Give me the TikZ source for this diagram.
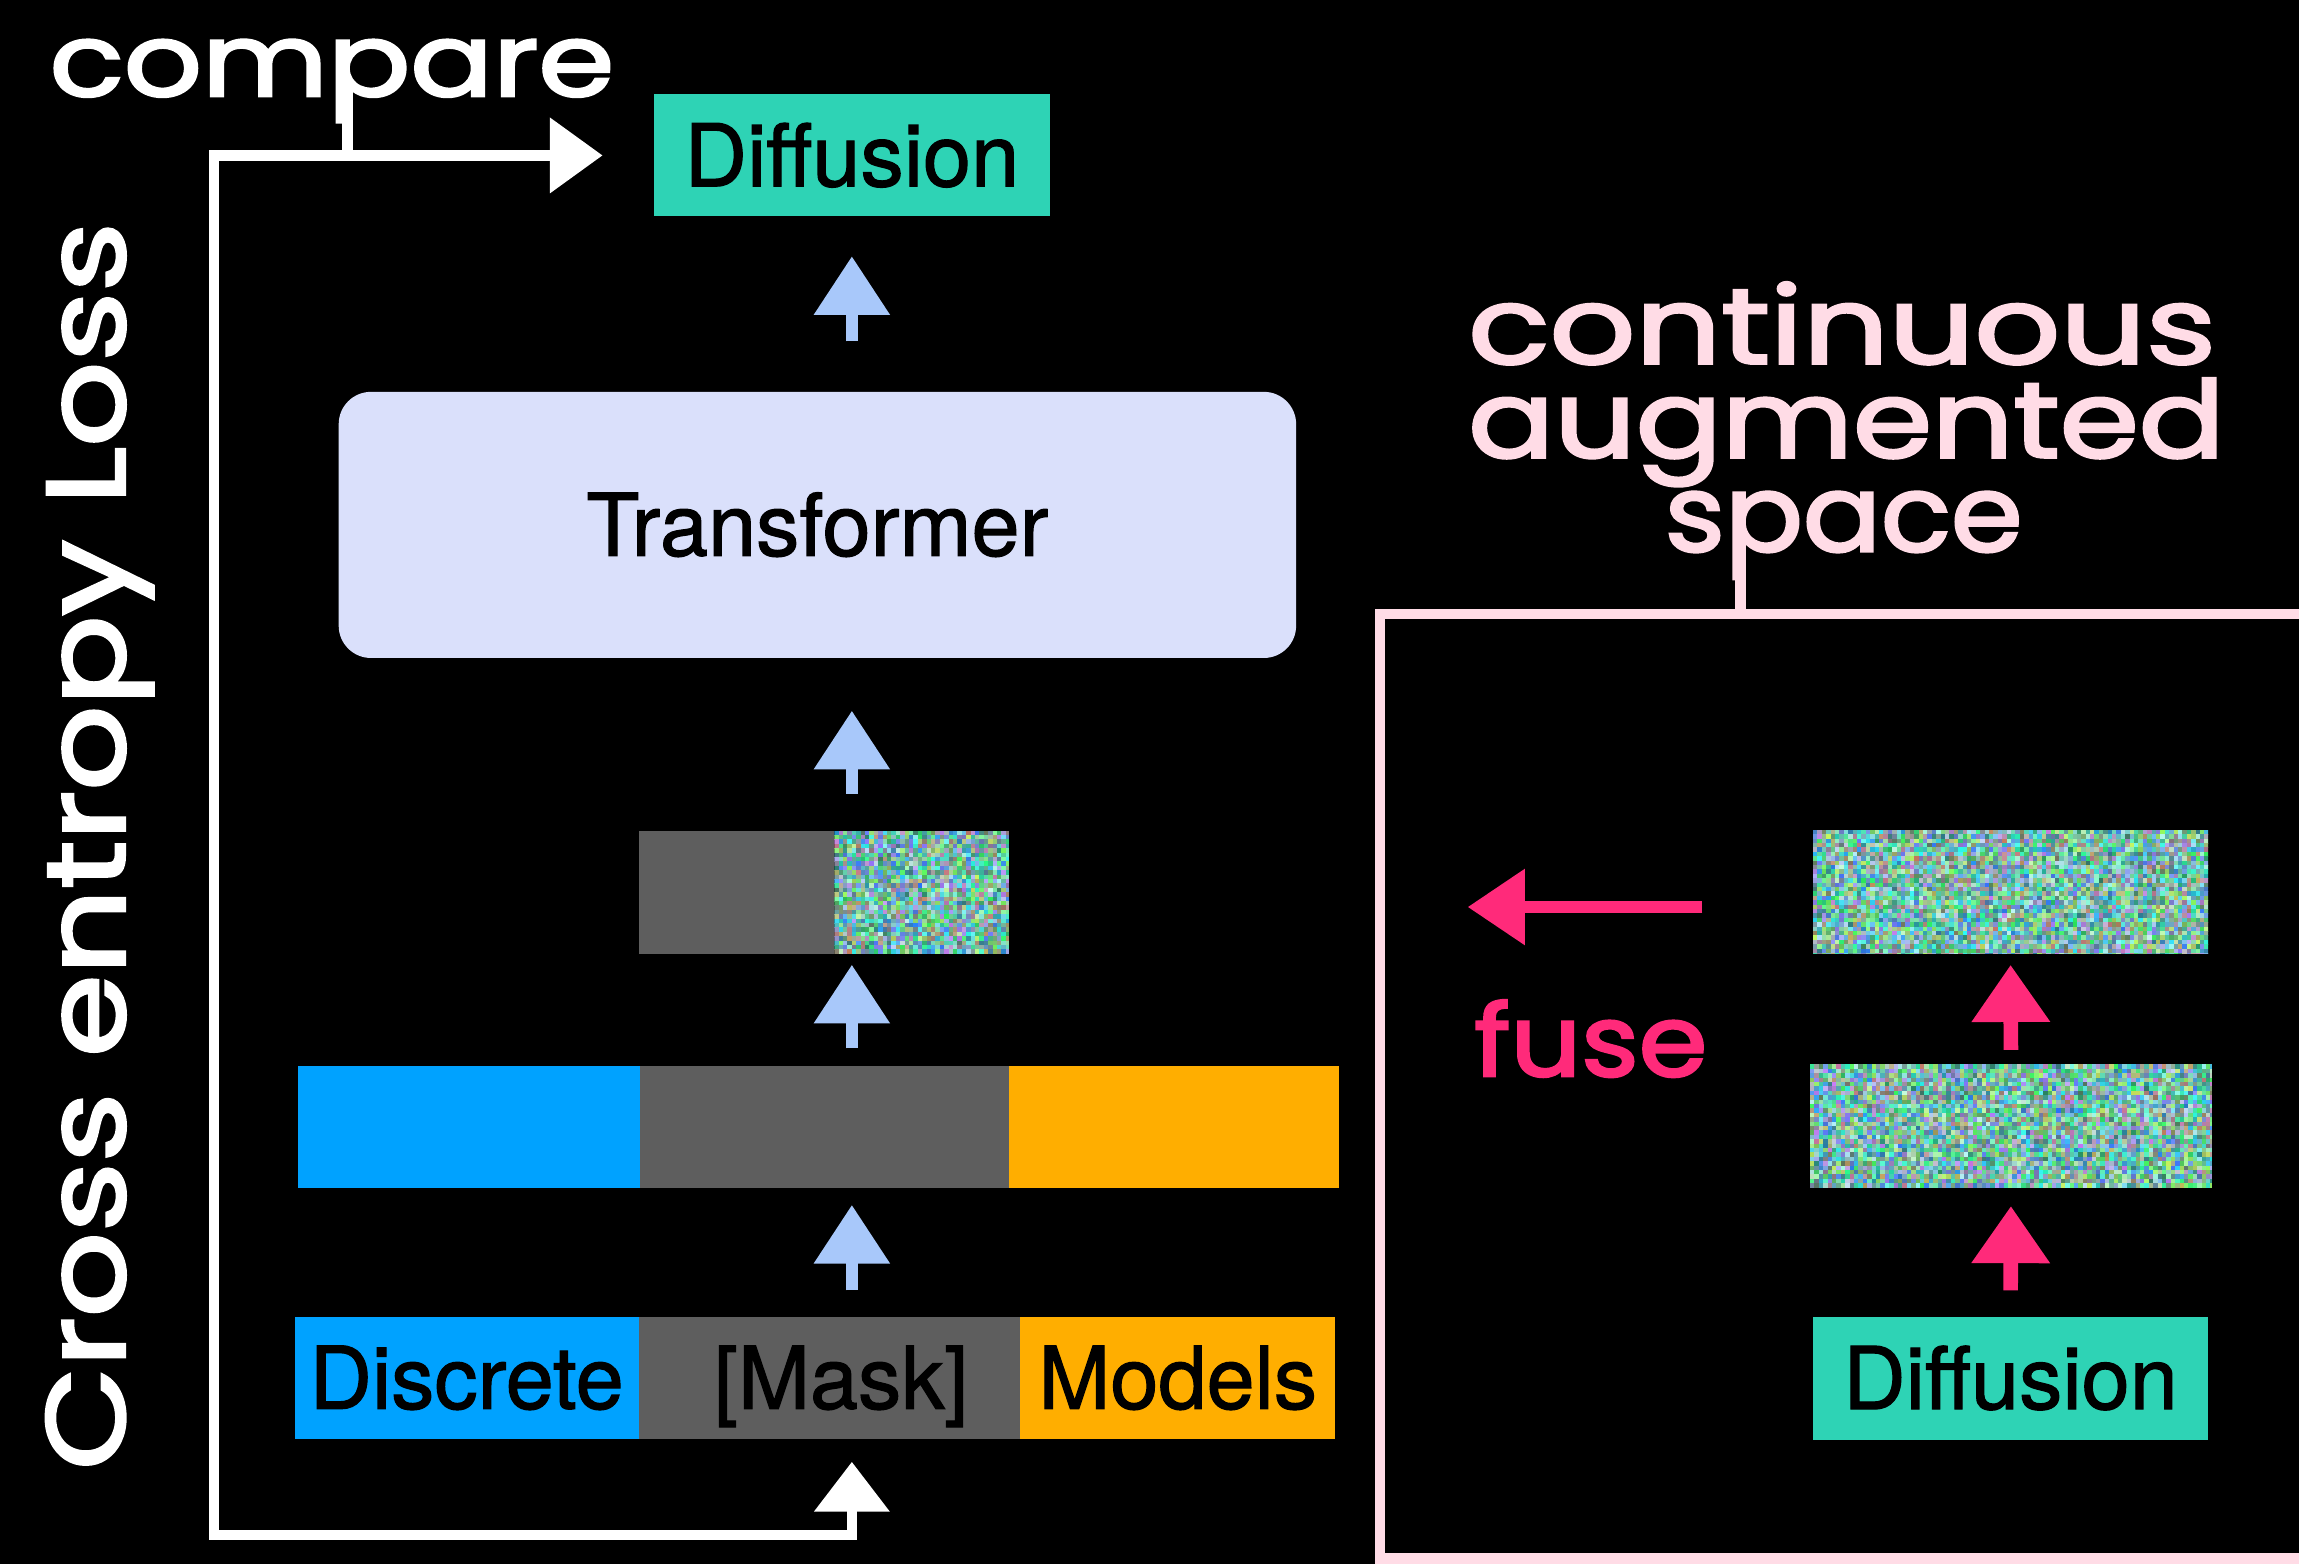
\documentclass[tikz,border=0pt]{standalone}
\usepackage{fontspec}
\usepackage{graphicx}
\usetikzlibrary{arrows.meta,calc}
\newfontfamily\heros{TeX Gyre Heros}[FakeBold=1.3]
\newfontfamily\chalk{Poppins}[FakeBold=2.5]
\definecolor{cTeal}{HTML}{2ED3B5}
\definecolor{cBlue}{HTML}{00A2FF}
\definecolor{cGray}{HTML}{5E5E5E}
\definecolor{cOrange}{HTML}{FFAE00}
\definecolor{cTrans}{HTML}{DAE0FB}
\definecolor{cArrowBlue}{HTML}{A8C8FA}
\definecolor{cPinkChalk}{HTML}{FFDCE6}
\definecolor{cHotPink}{HTML}{FF2A7A}
\newcommand{\noisebox}[4]{%
  \begin{scope}
  \clip (#1,#2) rectangle (#3,#4);
  \pgfmathtruncatemacro{\nzx}{(#3-#1)/3}%
  \pgfmathtruncatemacro{\nzy}{(#4-#2)/3}%
  \foreach \i in {0,...,\nzx}{%
    \foreach \j in {0,...,\nzy}{%
      \pgfmathrandominteger{\nzr}{40}{200}%
      \pgfmathrandominteger{\nzg}{115}{250}%
      \pgfmathrandominteger{\nzb}{90}{250}%
      \definecolor{nz}{RGB}{\nzr,\nzg,\nzb}%
      \fill[nz] ({#1+3*\i},{#2+3*\j}) rectangle ++(3.4,3.4);
    }%
  }%
  \end{scope}%
}
\newcommand{\nodepth}[1]{\raisebox{0pt}[\height][0pt]{#1}}
\begin{document}
\begin{tikzpicture}[x=0.5pt,y=-0.5pt,
  box/.style={draw=none, inner sep=0pt, outer sep=0pt, text height=21pt, text depth=0pt,
    font=\heros\fontsize{29.5}{30}\selectfont, text=black},
  chalktext/.style={inner sep=0pt, text=white},
  pinktext/.style={inner sep=0pt, text=cPinkChalk},
  fusetext/.style={inner sep=0pt, text=cHotPink},
  chalkline/.style={draw=white, line width=3.5pt},
  pinkline/.style={draw=cPinkChalk, line width=3.5pt},
  chalkarrow/.style={chalkline, {Triangle[width=25pt,length=17pt]}-{Triangle[width=25pt,length=18pt]}},
  barrow/.style={draw=cArrowBlue, line width=4pt, -{Triangle[width=25pt,length=20pt]}},
  parrow/.style={draw=cHotPink, line width=5pt, -{Triangle[width=25.5pt,length=19.5pt]}},
  fusearrow/.style={draw=cHotPink, line width=4pt, -{Triangle[width=25pt,length=19.5pt]}}
]
\fill[black] (0,0) rectangle (1568,1067);
\useasboundingbox (0,0) rectangle (1568,1067);
\pgfmathsetseed{7}

% left column
\node[box, fill=cTeal, minimum width=135pt, minimum height=41.6pt] (diffT) at (581,106) {Diffusion};
\node[box, fill=cTrans, rounded corners=11pt, minimum width=326.5pt, minimum height=90.75pt] (trans) at (557.5,358) {Transformer};
\node[box, fill=cGray, minimum width=66.5pt, minimum height=42pt] (midGray) at (502.5,608.5) {};
\node[box, minimum width=59.5pt, minimum height=42pt] (midNoise) at (628.5,608.5) {};
\noisebox{569}{566.5}{688}{650.5}
\node[box, fill=cBlue, minimum width=116.85pt, minimum height=41.5pt] (embBlue) at (319.85,768.5) {};
\node[box, fill=cGray, minimum width=125.65pt, minimum height=41.5pt] (embGray) at (562.35,768.5) {};
\node[box, fill=cOrange, minimum width=112.75pt, minimum height=41.5pt] (embOrange) at (800.75,768.5) {};
\node[box, fill=cBlue, minimum width=117.25pt, minimum height=41.8pt] (disc) at (318.25,939.8) {Discrete};
\node[box, fill=cGray, minimum width=130.25pt, minimum height=41.8pt] (mask) at (565.75,939.8) {\hspace*{8pt}[Mask]};
\node[box, fill=cOrange, minimum width=107.25pt, minimum height=41.8pt] (models) at (803.25,939.8) {Models};

% right column
\node[box, minimum width=134.75pt, minimum height=42.3pt] (noiseA) at (1371.25,608.3) {};
\noisebox{1236.5}{566}{1506}{650.6}
\node[box, minimum width=137pt, minimum height=42pt] (noiseB) at (1371.55,768) {};
\noisebox{1234.5}{726}{1508.6}{810}
\node[box, fill=cTeal, minimum width=134.75pt, minimum height=42pt] (diffB) at (1371.25,940) {Diffusion};

% blue arrows
\draw[barrow, shorten <=17.2pt, shorten >=13.6pt] (diffT.south |- trans.north) -- (diffT.south);
\draw[barrow, shorten <=12.5pt, shorten >=18pt] (diffT.south |- midGray.north) -- (diffT.south |- trans.south);
\draw[barrow, shorten <=6pt, shorten >=3.75pt] (diffT.south |- embGray.north) -- (diffT.south |- midGray.south);
\draw[barrow, shorten <=9pt, shorten >=5.9pt] (diffT.south |- mask.north) -- (diffT.south |- embGray.south);

% pink arrows
\draw[parrow, shorten <=5pt, shorten >=3.7pt] (noiseB.north) -- (noiseA.south);
\draw[parrow, shorten <=9pt, shorten >=6.25pt] (diffB.north) -- (noiseB.south);
\coordinate (fuseFrom) at (1161,618.6);
\coordinate (fuseTo) at (1001,618.6);
\draw[fusearrow] (fuseFrom) -- (fuseTo);
\node[fusetext, anchor=base west] (fuse) at (1005,734) {\resizebox{79.5pt}{\height}{\chalk\fontsize{34}{34}\selectfont fuse}};

% cross entropy loop
\coordinate (lossBL) at (146,1047);
\draw[chalkarrow, shorten <=7.7pt, shorten >=17.5pt] (diffT.south |- mask.south) -- (diffT.south |- lossBL) -- (lossBL) -- (lossBL |- diffT.west) -- (diffT.west);
\node[chalktext, anchor=base west] (compare) at (33.5,65.5) {\resizebox{192.5pt}{\height}{\chalk\fontsize{34.5}{35}\selectfont compare}};
\coordinate (cmpStem) at (237,58);
\draw[chalkline] (cmpStem) -- (cmpStem |- diffT.west);
\node[chalktext, anchor=base west, rotate=90] (loss) at (85,1003) {\resizebox{425.5pt}{\height}{\chalk\fontsize{38}{38}\selectfont Cross entropy Loss}};

% continuous augmented space
\node[pinktext, anchor=base west] (cont) at (1001,248) {\nodepth{\resizebox{255pt}{\height}{\chalk\fontsize{36.5}{37}\selectfont continuous}}};
\node[pinktext, anchor=base west] (augm) at (1001,312) {\nodepth{\resizebox{258pt}{\height}{\chalk\fontsize{36.5}{37}\selectfont augmented}}};
\node[pinktext, anchor=base west] (spc) at (1135,376) {\resizebox{122pt}{\height}{\chalk\fontsize{36.5}{37}\selectfont space}};
\coordinate (boxTL) at (941,418.8);
\coordinate (boxBL) at (941,1063);
\coordinate (spStem) at (1187,372);
\draw[pinkline] (spStem) -- (spStem |- boxTL);
\draw[pinkline] (1580,418.8) -- (boxTL) -- (boxBL) -- (1580,1063);
\end{tikzpicture}
\end{document}
